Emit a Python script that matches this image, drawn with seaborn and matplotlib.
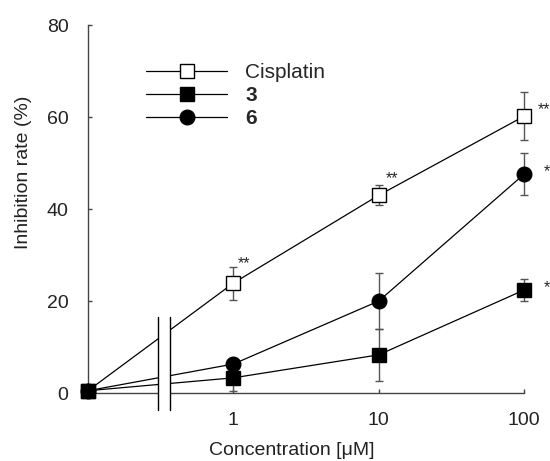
import numpy as np
import pandas as pd
import matplotlib.pyplot as plt
import seaborn as sns
from matplotlib.patches import Rectangle
from matplotlib.lines import Line2D

# concentrations in uM; the zero dose is drawn one decade below 1 (before the axis break)
conc = [0, 1, 10, 100]
zero_pos = 0.1

cis_mean = [0.5, 23.9, 43.0, 60.2]
cis_err = [0, 3.6, 2.2, 5.2]
c3_mean = [0.5, 3.3, 8.3, 22.4]
c3_err = [0, 2.8, 5.7, 2.4]
c6_mean = [0.5, 6.3, 20.0, 47.6]
c6_err = [0, 1.0, 6.0, 4.5]

series_names = ["Cisplatin", "3", "6"]
stars_cis = ["", "**", "**", "**"]
stars_3 = ["", "", "", "*"]
stars_6 = ["", "", "", "*"]

xtick_vals = [1, 10, 100]
ytick_vals = [0, 20, 40, 60, 80]

sns.set_style("ticks")
plt.rcParams["font.family"] = ["Liberation Sans", "DejaVu Sans"]

df = pd.DataFrame({
    "x": [zero_pos if c == 0 else c for c in conc] * 3,
    "rate": cis_mean + c3_mean + c6_mean,
    "err": cis_err + c3_err + c6_err,
    "compound": np.repeat(series_names, len(conc)),
})

fig = plt.figure(figsize=(5.5, 4.61), dpi=100)
ax = fig.add_axes([0.16, 0.1475, 0.793, 0.798])
ax.set_xscale("log")

styles = {
    "Cisplatin": dict(marker="s", markerfacecolor="white", markersize=9.5),
    "3": dict(marker="s", markerfacecolor="black", markersize=9.5),
    "6": dict(marker="o", markerfacecolor="black", markersize=10.5),
}
# draw 6 and cisplatin first so the black square sits on top at the zero dose
for name in ["6", "Cisplatin", "3"]:
    d = df[df["compound"] == name]
    ax.errorbar(d["x"], d["rate"], yerr=d["err"], fmt="none", ecolor="#555555",
                elinewidth=1.0, capsize=3, capthick=1.0, zorder=1.5, clip_on=False)
    sns.lineplot(data=d, x="x", y="rate", ax=ax, color="black", lw=0.9,
                 markeredgecolor="black", markeredgewidth=1.0, clip_on=False,
                 zorder=3, **styles[name])

# significance marks
for name, stars in [("Cisplatin", stars_cis), ("3", stars_3), ("6", stars_6)]:
    d = df[df["compound"] == name].reset_index(drop=True)
    for i, s in enumerate(stars):
        if not s:
            continue
        if name == "Cisplatin":
            off = {1: (3, 14), 2: (5, 12), 3: (10, 5)}[i]
        else:
            off = (14, 2)
        ax.annotate(s, xy=(d.loc[i, "x"], d.loc[i, "rate"]), xytext=off,
                    textcoords="offset points", fontsize=11.5, ha="left", va="center",
                    annotation_clip=False)

# axis break
ax.add_patch(Rectangle((0.303, -3.7), 0.366 - 0.303, 20.2, facecolor="white",
                       edgecolor="none", zorder=5, clip_on=False))
for xb in [0.303, 0.366]:
    ax.add_line(Line2D([xb, xb], [-3.7, 16.5], color="black", lw=1.0, zorder=6, clip_on=False))

ax.set_xlim(zero_pos, 100)
ax.set_ylim(0, 80)
ax.set_xticks(xtick_vals)
ax.set_xticklabels([str(v) for v in xtick_vals])
ax.xaxis.set_minor_locator(plt.NullLocator())
ax.set_yticks(ytick_vals)
ax.tick_params(direction="in", length=3, width=1, colors="#444444", labelcolor="#222222",
               labelsize=14, pad=14)
for sp in ["top", "right"]:
    ax.spines[sp].set_visible(False)
for sp in ["left", "bottom"]:
    ax.spines[sp].set_color("#444444")
    ax.spines[sp].set_linewidth(1.0)

ax.set_xlabel("Concentration [\u03bcM]", fontsize=14, color="#222222")
ax.set_ylabel("Inhibition rate (%)", fontsize=14, color="#222222")
ax.xaxis.set_label_coords(0.468, -0.155)
ax.yaxis.set_label_coords(-0.149, 0.60)
for lab in [ax.xaxis.label, ax.yaxis.label]:
    lab.set_ha("center")
    lab.set_va("center")

handles = [Line2D([], [], color="black", lw=0.9, markeredgecolor="black", **styles[n]) for n in series_names]
leg = ax.legend(handles, series_names, loc="upper left", bbox_to_anchor=(0.114, 0.92),
                frameon=False, fontsize=15, handlelength=3.9, handletextpad=0.85,
                labelspacing=0.2, borderaxespad=0)
for t in leg.get_texts()[1:]:
    t.set_fontweight("bold")

fig.savefig("out.png", dpi=100)
